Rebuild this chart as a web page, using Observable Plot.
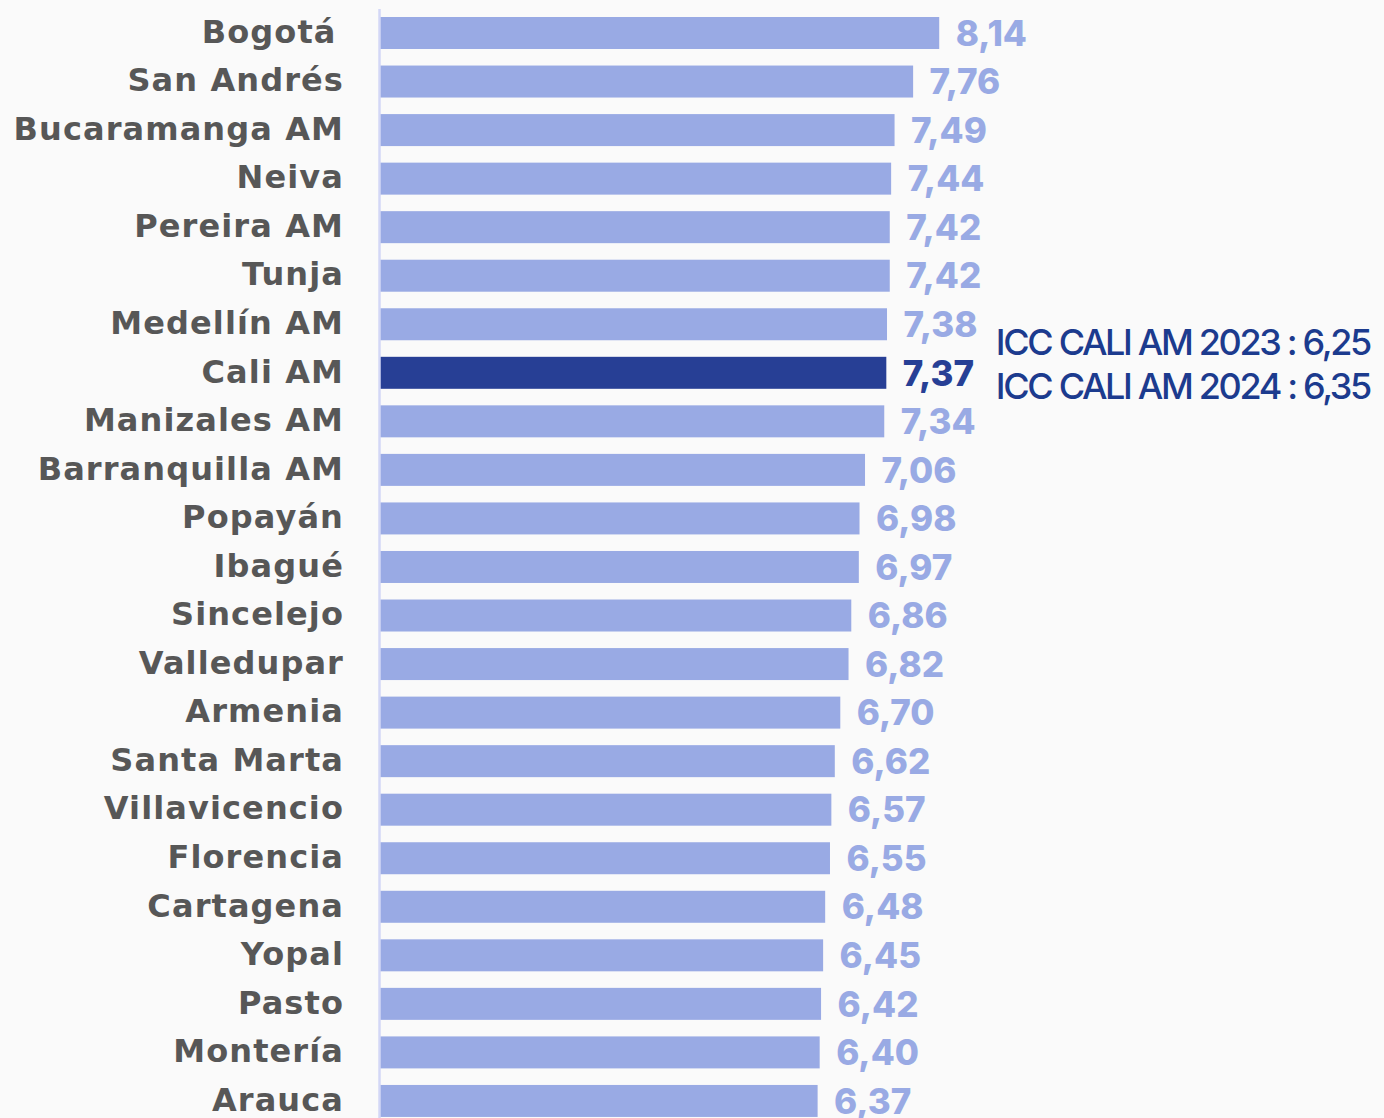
<!DOCTYPE html>
<html><head><meta charset="utf-8">
<script src="https://cdn.jsdelivr.net/npm/d3@7"></script>
<script src="https://cdn.jsdelivr.net/npm/@observablehq/plot@0.6"></script>
<style>
html,body{margin:0;padding:0;background:#fafafa;}
#chart svg{display:block;background:#fafafa;}
</style></head>
<body><div id="chart"></div>
<script>
const cities = ["Bogotá\u2009","San Andrés","Bucaramanga AM","Neiva","Pereira AM","Tunja","Medellín AM","Cali AM","Manizales AM","Barranquilla AM","Popayán","Ibagué","Sincelejo","Valledupar","Armenia","Santa Marta","Villavicencio","Florencia","Cartagena","Yopal","Pasto","Montería","Arauca"];
const values = [8.14,7.76,7.49,7.44,7.42,7.42,7.38,7.37,7.34,7.06,6.98,6.97,6.86,6.82,6.70,6.62,6.57,6.55,6.48,6.45,6.42,6.40,6.37];
const highlight = "Cali AM";
const notes = ["ICC CALI AM 2023 : 6,25","ICC CALI AM 2024 : 6,35"];

const data = cities.map((c,i)=>({city:c, value:values[i], hl:c===highlight}));
const fmt = v => v.toFixed(2).replace(".", ",");
const light = "#99aae4", dark = "#273f95";
const hlRow = data.find(d=>d.hl);
const note1 = [{text:notes[0], city:hlRow.city, value:hlRow.value}];
const note2 = [{text:notes[1], city:hlRow.city, value:hlRow.value}];

const chart = Plot.plot({
  width: 1384,
  height: 1118,
  marginTop: 9,
  marginBottom: 0,
  marginLeft: 380,
  marginRight: 0,
  style: {background:"#fafafa", fontFamily:"Inter, sans-serif"},
  x: {domain:[0,10], range:[380,1067], axis:null},
  y: {domain:cities, range:[0.45,1133.5], padding:0.341, round:false, axis:null},
  marks: [
    Plot.barX(data, {x:"value", y:"city", fill:d=>d.hl?dark:light}),
    Plot.ruleX([0], {stroke:"#d3d7f6", strokeWidth:2.5, dx:-1}),
    Plot.text(data, {x:0, y:"city", text:"city", textAnchor:"end", dx:-36.5, dy:-1,
      fontSize:32, fontWeight:700, fill:"#575757", fontFamily:"DejaVu Sans"}),
    Plot.text(data, {x:"value", y:"city", text:d=>fmt(d.value), textAnchor:"start", dx:16, dy:1,
      fontSize:35, fontWeight:800, fill:d=>d.hl?dark:light}),
    Plot.text(note1, {x:"value", y:"city", text:"text", textAnchor:"start", dx:109, dy:-30,
      fontSize:36, fontWeight:500, fill:"#1c3b8e"}),
    Plot.text(note2, {x:"value", y:"city", text:"text", textAnchor:"start", dx:109, dy:14,
      fontSize:36, fontWeight:500, fill:"#1c3b8e"})
  ]
});
const sel = d3.select(chart).selectAll("text");
sel.filter(function(){return this.textContent.startsWith("ICC");}).attr("letter-spacing", "-2.35");
sel.filter(function(){return cities.includes(this.textContent);}).attr("letter-spacing", "1.1");
document.getElementById("chart").append(chart);
</script></body></html>
